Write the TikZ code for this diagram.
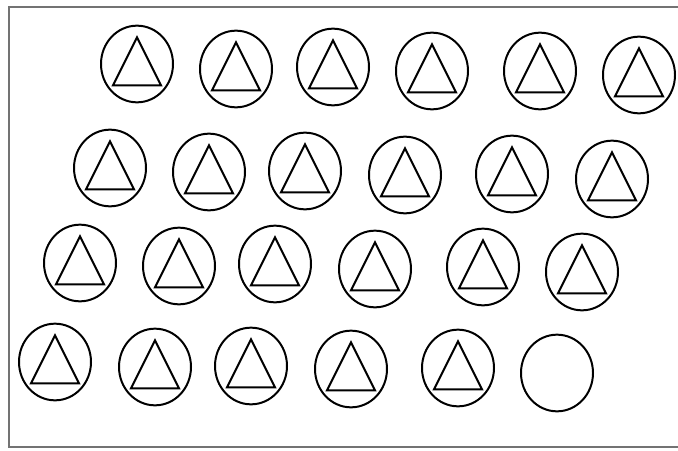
\documentclass[tikz,border=0pt]{standalone}
\usepackage{tikz}
\usetikzlibrary{shapes.geometric}
\tikzset{
  frame/.style={draw=black!55,line width=0.9pt},
  coin/.style={ellipse,draw=black,line width=1.7pt,
               minimum width=2.16cm,minimum height=2.3cm,inner sep=0pt},
  tri/.style={draw=black,line width=1.7pt,line join=miter},
}

\begin{document}
\begin{tikzpicture}[x=0.03cm,y=-0.03cm]

  \useasboundingbox (0,0) rectangle (678,450);
  \draw[frame] (678,7) -- (9,7) -- (9,447) -- (678,447);

  % row 1
  \node[coin] (A1) at (137,64){};
  \node[coin] (A2) at (236,69){};
  \node[coin] (A3) at (333,67){};
  \node[coin] (A4) at (432,71){};
  \node[coin] (A5) at (540,71){};
  \node[coin] (A6) at (639,75){};
  % row 2
  \node[coin] (B1) at (110,168){};
  \node[coin] (B2) at (209,172){};
  \node[coin] (B3) at (305,171){};
  \node[coin] (B4) at (405,175){};
  \node[coin] (B5) at (512,174){};
  \node[coin] (B6) at (612,179){};
  % row 3
  \node[coin] (C1) at (80,263){};
  \node[coin] (C2) at (179,266){};
  \node[coin] (C3) at (275,264){};
  \node[coin] (C4) at (375,269){};
  \node[coin] (C5) at (483,267){};
  \node[coin] (C6) at (582,272){};
  % row 4, last one empty
  \node[coin] (D1) at (55,362){};
  \node[coin] (D2) at (155,367){};
  \node[coin] (D3) at (251,366){};
  \node[coin] (D4) at (351,369){};
  \node[coin] (D5) at (458,368){};
  \node[coin] (D6) at (557,373){};

  \foreach \n in {A1,A2,A3,A4,A5,A6,B1,B2,B3,B4,B5,B6,
                  C1,C2,C3,C4,C5,C6,D1,D2,D3,D4,D5}
    \draw[tri] ([yshift=0.8cm]\n.center) -- ++(24,48) -- ++(-48,0) -- cycle;

\end{tikzpicture}
\end{document}
